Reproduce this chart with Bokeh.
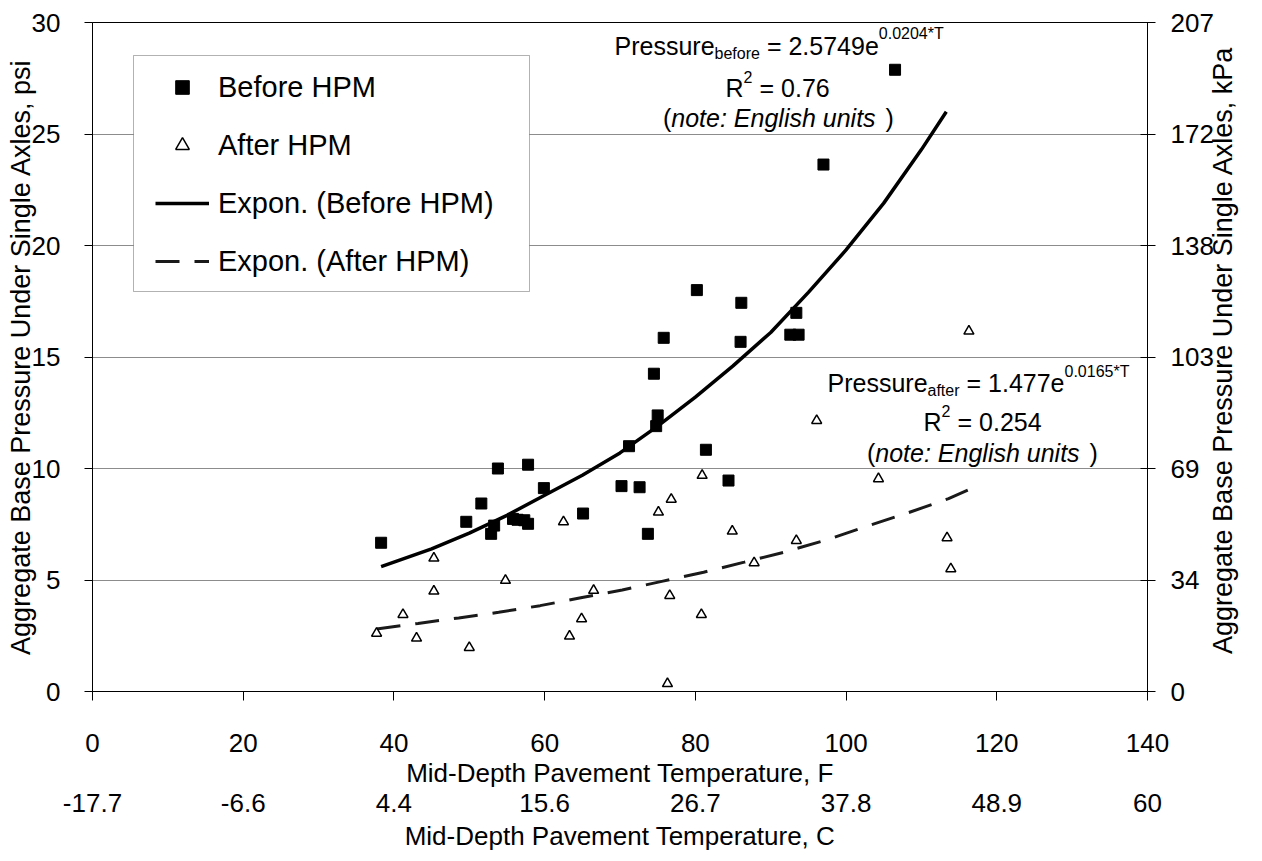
import math
from bokeh.plotting import figure
from bokeh.models import (Range1d, LinearAxis, FixedTicker, Label, BoxAnnotation,
                          Legend, LegendItem)
from bokeh.embed import file_html
from bokeh.resources import INLINE

# ---------------- data ----------------
before_temp = [38.3, 49.6, 51.6, 52.9, 53.3, 53.8, 55.8, 56.4, 57.3, 57.8, 57.8, 59.9,
               65.1, 70.2, 71.2, 72.6, 73.7, 74.5, 74.8, 75.0, 75.8, 80.2, 81.4, 84.4,
               86.0, 86.1, 92.6, 93.4, 93.7, 97.0, 106.5]
before_psi = [6.67, 7.61, 8.43, 7.07, 7.44, 10.0, 7.74, 7.70, 7.68, 7.52, 10.17, 9.12,
              7.98, 9.21, 11.0, 9.16, 7.07, 14.25, 11.9, 12.38, 15.86, 18.0, 10.84, 9.46,
              15.68, 17.43, 16.0, 16.98, 16.0, 23.63, 27.88]

after_temp = [37.7, 41.2, 43.0, 45.3, 45.3, 50.0, 54.8, 62.5, 63.3, 64.9, 66.5, 75.1,
              76.8, 76.6, 76.3, 80.8, 80.9, 84.9, 87.8, 93.4, 96.1, 104.3, 113.4, 113.9,
              116.3]
after_psi = [2.61, 3.45, 2.39, 5.98, 4.5, 1.97, 4.98, 7.61, 2.48, 3.26, 4.53, 8.04,
             8.62, 4.3, 0.35, 3.45, 9.69, 7.19, 5.77, 6.77, 12.15, 9.54, 6.89, 5.5,
             16.16]

trend_before_temp = [38.3, 45, 50, 55, 60, 65, 70, 75, 80, 85, 90, 95, 100, 105, 110, 113.3]
trend_before_psi = [5.6, 6.4, 7.1, 7.9, 8.8, 9.7, 10.7, 11.9, 13.2, 14.6, 16.1, 17.9,
                    19.8, 21.9, 24.3, 26.0]

trend_after_temp = [37.7, 43.2, 48.6, 53.9, 59.4, 64.8, 70.3, 75.7, 81.1, 86.5, 91.8,
                    97.4, 102.7, 108.1, 113.6, 116.3]
trend_after_psi = [2.8, 3.05, 3.3, 3.55, 3.85, 4.2, 4.55, 4.95, 5.35, 5.8, 6.25,
                   6.8, 7.4, 8.0, 8.65, 9.05]

psi_ticks = [0, 5, 10, 15, 20, 25, 30]
psi_labels = ["0", "5", "10", "15", "20", "25", "30"]
kpa_labels = ["0", "34", "69", "103", "138", "172", "207"]
f_ticks = [0, 20, 40, 60, 80, 100, 120, 140]
f_labels = ["0", "20", "40", "60", "80", "100", "120", "140"]
c_labels = ["-17.7", "-6.6", "4.4", "15.6", "26.7", "37.8", "48.9", "60"]

legend_labels = ["Before HPM", "After HPM", "Expon. (Before HPM)", "Expon. (After HPM)"]

title_f = "Mid-Depth Pavement Temperature, F"
title_c = "Mid-Depth Pavement Temperature, C"
title_psi = "Aggregate Base Pressure Under Single Axles, psi"
title_kpa = "Aggregate Base Pressure Under Single Axles, kPa"

# ---------------- layout ----------------
FONT = "Liberation Sans"
FS = "26px"
VFS = "27px"
W, H = 1262, 861
FL, FR, FT, FB = 92, 1147, 22, 691   # frame edges in page pixels
XMIN, XMAX, YMIN, YMAX = 0, 140, 0, 30


def dx(px):
    return XMIN + (px - FL) * (XMAX - XMIN) / (FR - FL)


def dy(py):
    return YMIN + (FB - py) * (YMAX - YMIN) / (FB - FT)


p = figure(width=W, height=H, x_range=Range1d(XMIN, XMAX), y_range=Range1d(YMIN, YMAX),
           output_backend="svg", toolbar_location=None,
           min_border_left=FL, min_border_right=W - FR,
           min_border_top=FT, min_border_bottom=H - FB)
p.background_fill_color = "white"
p.border_fill_color = "white"
p.outline_line_color = "black"
p.outline_line_width = 1

p.xgrid.visible = False
p.ygrid.ticker = FixedTicker(ticks=psi_ticks)
p.ygrid.grid_line_color = "#8c8c8c"
p.ygrid.grid_line_width = 1


def style_axis(ax, standoff, title_fs=FS):
    ax.minor_tick_line_color = None
    ax.major_label_standoff = standoff
    ax.major_label_text_font = FONT
    ax.major_label_text_font_size = FS
    ax.major_label_text_color = "black"
    ax.axis_label_text_font = FONT
    ax.axis_label_text_font_size = title_fs
    ax.axis_label_text_font_style = "normal"
    ax.axis_label_text_color = "black"


# left axis
ya = p.left[0]
ya.ticker = FixedTicker(ticks=psi_ticks)
ya.major_label_overrides = {t: l for t, l in zip(psi_ticks, psi_labels)}
ya.major_tick_in = 0
ya.major_tick_out = 8
ya.axis_line_color = "black"
style_axis(ya, 24, VFS)
ya.axis_label = title_psi
ya.axis_label_standoff = -7

# right axis (kPa)
ra = LinearAxis(ticker=FixedTicker(ticks=psi_ticks),
                major_label_overrides={t: l for t, l in zip(psi_ticks, kpa_labels)})
ra.major_tick_in = 7
ra.major_tick_out = 8
ra.axis_line_color = "black"
style_axis(ra, 15, VFS)
ra.axis_label_standoff = 6
if hasattr(ra, "axis_label_orientation") and hasattr(ra, "axis_label_align"):
    # read bottom-to-top like the reference; the rotated label starts at its anchor,
    # so anchor it at the bottom end and pad the start
    ra.axis_label_orientation = math.pi / 2
    ra.axis_label_align = "start"
    ra.axis_label = "\u00a0" * 5 + title_kpa
else:
    ra.axis_label = title_kpa
p.add_layout(ra, "right")

# bottom axis (F)
xa = p.below[0]
xa.ticker = FixedTicker(ticks=f_ticks)
xa.major_label_overrides = {t: l for t, l in zip(f_ticks, f_labels)}
xa.major_tick_in = 0
xa.major_tick_out = 9
xa.axis_line_color = "black"
style_axis(xa, 33)
xa.axis_label = title_f
xa.axis_label_standoff = 3

# second bottom axis (C)
ca = LinearAxis(ticker=FixedTicker(ticks=f_ticks),
                major_label_overrides={t: l for t, l in zip(f_ticks, c_labels)})
ca.axis_line_color = None
ca.major_tick_line_color = None
style_axis(ca, -3)
ca.axis_label = title_c
ca.axis_label_standoff = 6
p.add_layout(ca, "below")

# ---------------- glyphs ----------------
r_tb = p.line(trend_before_temp, trend_before_psi, line_color="black", line_width=3.5)
r_ta = p.line(trend_after_temp, trend_after_psi, line_color="#1a1a1a", line_width=3,
              line_dash="24 15")
r_b = p.scatter(before_temp, before_psi, marker="square", size=11,
                fill_color="black", line_color="black")
r_a = p.scatter(after_temp, after_psi, marker="triangle", size=10,
                fill_color="white", line_color="black", line_width=1.5)

# legend box + legend
p.add_layout(BoxAnnotation(left=dx(133), right=dx(529), top=dy(55), bottom=dy(291),
                           fill_color="white", fill_alpha=1.0,
                           line_color="black", line_width=1))
legend = Legend(items=[LegendItem(label=legend_labels[0], renderers=[r_b]),
                       LegendItem(label=legend_labels[1], renderers=[r_a]),
                       LegendItem(label=legend_labels[2], renderers=[r_tb]),
                       LegendItem(label=legend_labels[3], renderers=[r_ta])],
                location=(155 - FL, FB - 278), padding=0, margin=0, spacing=24,
                glyph_width=54, glyph_height=34, label_height=34, label_standoff=9,
                label_text_font=FONT, label_text_font_size="29px",
                label_text_color="black",
                border_line_color=None, background_fill_alpha=0)
p.add_layout(legend)


def txt(s, xp, base_py, size=25, style="normal"):
    # base_py is the text baseline in page pixels; anchor the label on its middle
    p.add_layout(Label(x=dx(xp), y=dy(base_py - 0.35 * size), text=s, text_font=FONT,
                       text_font_size=f"{size}px", text_font_style=style,
                       text_align="left", text_baseline="middle", text_color="black"))


# equation annotation: before
txt("Pressure", 614, 54)
txt("before", 714, 59, size=16)
txt("= 2.5749e", 766.4, 54)
txt("0.0204*T", 878.3, 39, size=16)
txt("R", 725, 96)
txt("2", 743, 82, size=16)
txt("= 0.76", 759, 96)
txt("(", 662.5, 126)
txt("note: English units", 670.8, 126, style="italic")
txt(")", 885.1, 126)

# equation annotation: after
txt("Pressure", 827, 391)
txt("after", 927, 396, size=16)
txt("= 1.477e", 966, 391)
txt("0.0165*T", 1064, 377, size=16)
txt("R", 923, 430)
txt("2", 941, 416, size=16)
txt("= 0.254", 957, 430)
txt("(", 866.5, 461)
txt("note: English units", 874.8, 461, style="italic")
txt(")", 1089, 461)

open("out.html", "w").write(file_html(p, INLINE))
